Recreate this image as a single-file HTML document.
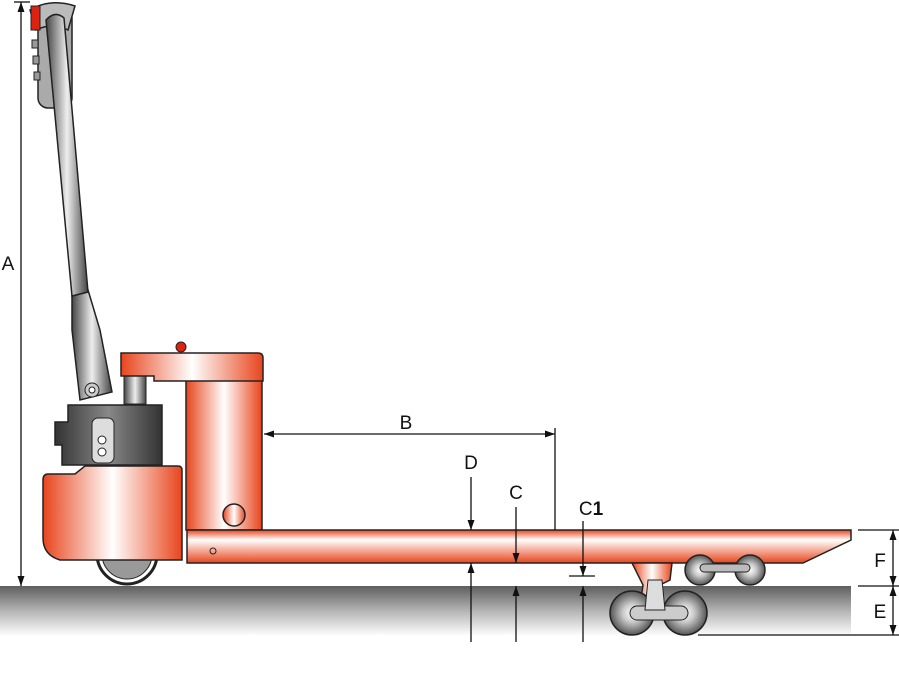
<!DOCTYPE html>
<html><head><style>html,body{margin:0;padding:0;background:#fff;}svg{display:block}</style></head><body>
<svg width="899" height="691" viewBox="0 0 899 691" xmlns="http://www.w3.org/2000/svg" font-family="Liberation Sans, sans-serif">
<defs>
<linearGradient id="gr" x1="0" y1="0" x2="0" y2="1"><stop offset="0" stop-color="#5e5e5e"/><stop offset="0.5" stop-color="#b5b5b5"/><stop offset="1" stop-color="#fff"/></linearGradient>
<linearGradient id="oh" x1="0" y1="0" x2="1" y2="0"><stop offset="0" stop-color="#e8451c"/><stop offset="0.5" stop-color="#fff"/><stop offset="1" stop-color="#e8451c"/></linearGradient>
<linearGradient id="ov" x1="0" y1="0" x2="0" y2="1"><stop offset="0" stop-color="#e8451c"/><stop offset="0.3" stop-color="#fff"/><stop offset="1" stop-color="#e8451c"/></linearGradient>
<linearGradient id="gh" x1="0" y1="0" x2="1" y2="0"><stop offset="0" stop-color="#444"/><stop offset="0.5" stop-color="#eee"/><stop offset="1" stop-color="#444"/></linearGradient>
<linearGradient id="dk" x1="0" y1="0" x2="1" y2="0"><stop offset="0" stop-color="#333"/><stop offset="0.5" stop-color="#888"/><stop offset="1" stop-color="#333"/></linearGradient>
<radialGradient id="wh"><stop offset="0" stop-color="#fff"/><stop offset="0.4" stop-color="#ccc"/><stop offset="1" stop-color="#555"/></radialGradient>
<marker id="ar" viewBox="0 0 10 10" refX="10" refY="5" markerWidth="10" markerHeight="10" orient="auto-start-reverse" markerUnits="userSpaceOnUse"><path d="M0,1.5 L10,5 L0,8.5 z" fill="#111"/></marker>
</defs>
<rect x="0" y="586" width="851" height="50" fill="url(#gr)"/>
<!-- handle -->
<rect x="38" y="8" width="34" height="100" rx="10" fill="#aaa" stroke="#222" stroke-width="1.5"/>
<path d="M30,10 Q50,-2 75,6 L68,30 Q52,22 36,30 Z" fill="#bbb" stroke="#222" stroke-width="1.5"/>
<path d="M72,295 L88,290 L100,330 L112,392 L80,400 L72,330 Z" fill="url(#gh)" stroke="#222" stroke-width="1.5"/>
<path d="M46,20 Q55,10 64,18 L88,292 L72,296 Z" fill="url(#gh)" stroke="#222" stroke-width="1.5"/>
<rect x="31" y="6" width="9" height="24" fill="#d21" stroke="#222"/>
<rect x="32" y="40" width="6" height="8" fill="#999" stroke="#222"/><rect x="33" y="56" width="6" height="8" fill="#999" stroke="#222"/><rect x="34" y="72" width="6" height="8" fill="#999" stroke="#222"/>
<!-- grey block -->
<rect x="124" y="372" width="22" height="32" fill="url(#gh)" stroke="#222"/>
<path d="M55,422 L68,422 L68,405 L162,405 L162,465 L62,465 L62,445 L55,445 Z" fill="url(#dk)" stroke="#222" stroke-width="1.5"/>
<rect x="92" y="418" width="22" height="45" rx="6" fill="#ddd" stroke="#222"/>
<circle cx="102" cy="440" r="4" fill="#fff" stroke="#222"/><circle cx="102" cy="452" r="4" fill="#fff" stroke="#222"/>
<circle cx="92" cy="390" r="7" fill="#ccc" stroke="#222"/><circle cx="92" cy="390" r="3" fill="#fff" stroke="#222"/>
<!-- drive wheel -->
<circle cx="127" cy="554" r="30" fill="#fff" stroke="#222" stroke-width="3"/>
<circle cx="127" cy="554" r="25" fill="#999" stroke="#222"/>
<!-- top plate & column -->
<circle cx="181" cy="347" r="5" fill="#d21" stroke="#222"/>
<rect x="186" y="380" width="76" height="150" fill="url(#oh)" stroke="#222" stroke-width="1.5"/>
<path d="M121,353 L258,353 Q263,353 263,358 L263,381 L154,381 L154,376 L121,376 Z" fill="url(#oh)" stroke="#222" stroke-width="1.5"/>
<circle cx="234" cy="515" r="11" fill="url(#oh)" stroke="#222" stroke-width="1.5"/>
<!-- front housing -->
<path d="M48,474 L75,474 L85,466 L178,466 Q182,466 182,470 L182,560 L60,560 Q43,555 43,538 L43,480 Q43,474 48,474 Z" fill="url(#oh)" stroke="#222" stroke-width="1.5"/>
<!-- fork -->
<path d="M187,530 L851,530 L851,540 L803,563 L187,563 Z" fill="url(#ov)" stroke="#222" stroke-width="1.5"/>
<circle cx="213" cy="551" r="3" fill="none" stroke="#222"/>
<!-- load wheels -->
<circle cx="700" cy="570" r="15" fill="url(#wh)" stroke="#222" stroke-width="1.5"/>
<circle cx="750" cy="570" r="15" fill="url(#wh)" stroke="#222" stroke-width="1.5"/>
<rect x="700" y="564" width="50" height="8" rx="4" fill="#bbb" stroke="#222"/>
<path d="M632,563 L672,563 L670,580 L660,585 L650,605 L640,605 L643,585 Z" fill="url(#oh)" stroke="#222" stroke-width="1.5"/>
<circle cx="632" cy="613" r="22" fill="url(#wh)" stroke="#222" stroke-width="1.5"/>
<circle cx="685" cy="613" r="22" fill="url(#wh)" stroke="#222" stroke-width="1.5"/>
<rect x="630" y="606" width="58" height="14" rx="7" fill="#ccc" stroke="#222"/>
<path d="M648,580 L662,580 L665,610 L645,610 Z" fill="#ddd" stroke="#222"/>
<!-- dimensions -->
<g stroke="#111" stroke-width="1.3" fill="none">
<line x1="14" y1="2" x2="30" y2="2"/>
<line x1="21" y1="2" x2="21" y2="586" marker-start="url(#ar)" marker-end="url(#ar)"/>
<line x1="264" y1="434" x2="555" y2="434" marker-start="url(#ar)" marker-end="url(#ar)"/>
<line x1="555" y1="428" x2="555" y2="530"/>
<line x1="471" y1="477" x2="471" y2="530" marker-end="url(#ar)"/>
<line x1="471" y1="642" x2="471" y2="563" marker-end="url(#ar)"/>
<line x1="516" y1="507" x2="516" y2="563" marker-end="url(#ar)"/>
<line x1="516" y1="642" x2="516" y2="586" marker-end="url(#ar)"/>
<line x1="583" y1="521" x2="583" y2="576" marker-end="url(#ar)"/>
<line x1="569" y1="576" x2="595" y2="576"/>
<line x1="583" y1="642" x2="583" y2="586" marker-end="url(#ar)"/>
<line x1="858" y1="530" x2="899" y2="530"/>
<line x1="858" y1="586" x2="899" y2="586"/>
<line x1="698" y1="635" x2="899" y2="635"/>
<line x1="893" y1="530" x2="893" y2="586" marker-start="url(#ar)" marker-end="url(#ar)"/>
<line x1="893" y1="586" x2="893" y2="635" marker-start="url(#ar)" marker-end="url(#ar)"/>
</g>
<g font-size="19" fill="#111" text-anchor="middle">
<text x="8" y="270">A</text>
<text x="406" y="429">B</text>
<text x="471" y="469">D</text>
<text x="516" y="499">C</text>
<text x="591" y="515">C<tspan font-weight="bold">1</tspan></text>
<text x="880" y="567">F</text>
<text x="880" y="618">E</text>
</g>
</svg>
</body></html>
